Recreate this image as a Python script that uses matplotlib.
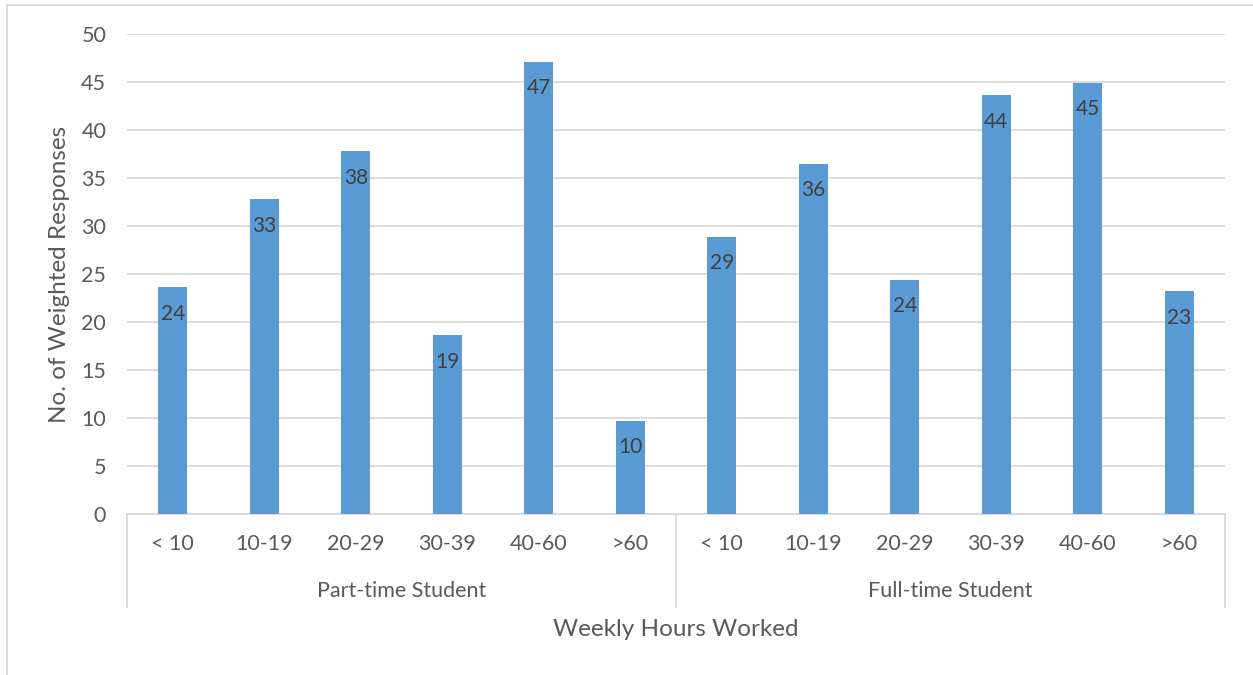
import matplotlib
matplotlib.use("Agg")
import matplotlib.pyplot as plt
from matplotlib.patches import Rectangle
import matplotlib.transforms as mtransforms

# ── Datos ──────────────────────────────────────────────────────────────────────
hour_bands = ["< 10", "10-19", "20-29", "30-39", "40-60", ">60"]
groups = ["Part-time Student", "Full-time Student"]
part_time = [23.6, 32.8, 37.8, 18.6, 47.1, 9.7]
full_time = [28.9, 36.5, 24.4, 43.6, 44.9, 23.2]

BAR_COLOR = "#5B9BD5"
TEXT_COLOR = "#595959"
GRID_COLOR = "#D9D9D9"
FONT = ["Lato", "DejaVu Sans"]

plt.rcParams["font.family"] = FONT

W, H = 1253, 675
fig = plt.figure(figsize=(W / 100, H / 100), dpi=100)

# marco exterior del gráfico
fig.patches.append(Rectangle((7 / W, -0.1), 1.2, 1.1 - 5 / H, transform=fig.transFigure,
                             fill=False, edgecolor=GRID_COLOR, linewidth=1.2))

left, right, top, bottom = 127, 1225, 34, 514
ax = fig.add_axes([left / W, 1 - bottom / H, (right - left) / W, (bottom - top) / H])

values = part_time + full_time
xs = list(range(len(values)))
bars = ax.bar(xs, values, width=0.32, color=BAR_COLOR, zorder=3)

for b, v in zip(bars, values):
    ax.annotate(f"{v:.0f}", (b.get_x() + b.get_width() / 2, v),
                xytext=(0, -19), textcoords="offset points",
                ha="center", va="center", fontsize=15, color="#404040", zorder=4)

ax.set_xlim(-0.5, len(values) - 0.5)
ax.set_ylim(0, 50)
ax.set_yticks(range(0, 51, 5))
ax.yaxis.grid(True, color=GRID_COLOR, linewidth=1.3, zorder=0)
ax.tick_params(axis="y", length=0, pad=15, labelsize=15.5, labelcolor=TEXT_COLOR)
ax.set_xticks([])
for s in ["top", "right", "left"]:
    ax.spines[s].set_visible(False)
ax.spines["bottom"].set_color(GRID_COLOR)
ax.spines["bottom"].set_linewidth(1.3)

# eje de categorías en dos niveles
trans = mtransforms.blended_transform_factory(ax.transData, ax.transAxes)
px = 1 / (bottom - top)
for x in [-0.5, 5.5, 11.5]:
    ax.plot([x, x], [0, -93 * px], transform=trans, color=GRID_COLOR,
            linewidth=1.3, clip_on=False)

n = len(hour_bands)
for gi, g in enumerate(groups):
    for i, band in enumerate(hour_bands):
        ax.text(gi * n + i, -30 * px, band, transform=trans, ha="center", va="center",
                fontsize=15.5, color=TEXT_COLOR)
    ax.text(gi * n + (n - 1) / 2, -77 * px, g, transform=trans, ha="center",
            va="center", fontsize=15.5, color=TEXT_COLOR)

ax.text(0.5, -115 * px, "Weekly Hours Worked", transform=ax.transAxes, ha="center",
        va="center", fontsize=17.5, color=TEXT_COLOR)
fig.text(60 / W, 1 - 274 / H, "No. of Weighted Responses", rotation=90, ha="center",
         va="center", fontsize=17.5, color=TEXT_COLOR)

fig.savefig("out.png", dpi=100)
